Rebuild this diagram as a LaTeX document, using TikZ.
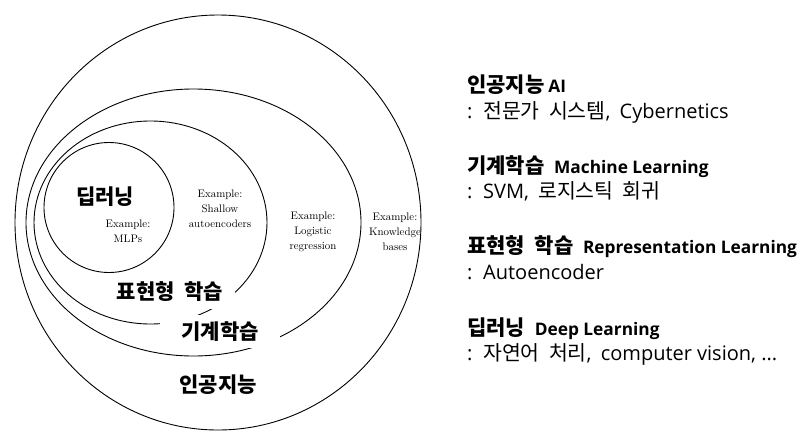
\documentclass[tikz,border=0pt]{standalone}
\usepackage{fontspec}
\newfontfamily\kr{Noto Sans CJK KR}
\newfontfamily\krw[WordSpace=2]{Noto Sans CJK KR}
\newfontfamily\en{Open Sans}
\tikzset{
  ring/.style={draw=black, line width=0.9pt},
  exbox/.style={align=center, font=\fontsize{10.9}{15}\selectfont, inner sep=0pt},
  setlabel/.style={font=\krw\bfseries\fontsize{21}{24}\selectfont, inner sep=0pt},
  cutlabel/.style={setlabel, fill=white},
  headtxt/.style={anchor=base west, inner sep=0pt, font=\krw\bfseries\fontsize{21}{24}\selectfont},
  bodytxt/.style={anchor=base west, inner sep=0pt, font=\krw\fontsize{20.5}{24}\selectfont},
}
\newcommand{\engsmall}[1]{{\en\bfseries\fontsize{17.3}{20}\selectfont #1}}
\newcommand{\eng}[1]{{\en\fontsize{20}{24}\selectfont #1}}
\begin{document}
\begin{tikzpicture}[x=1pt, y=-1pt]
\useasboundingbox[fill=white] (0,0) rectangle (806,445);
% sets
\draw[ring] (218,222.5) ellipse [x radius=203, y radius=207.5];
\draw[ring] (193.5,222.5) ellipse [x radius=167.5, y radius=133.5];
\draw[ring] (150.5,222.5) ellipse [x radius=116.5, y radius=101.5];
\draw[ring] (109,207.5) circle [radius=65];
% labels cutting the rings
\node[cutlabel, minimum width=130pt, minimum height=35pt] (rl) at (170,291.5) {표현형 학습};
\node[cutlabel, minimum width=120pt, minimum height=33pt] (ml) at (220,331.5) {기계학습};
\node[setlabel] (ai) at (218,385) {인공지능};
\node[setlabel] (dl) at (105,197) {딥러닝};
% examples
\node[exbox] (exdl) at (128,231) {Example:\\MLPs};
\node[exbox] (exrl) at (220,209) {Example:\\Shallow\\autoencoders};
\node[exbox] (exml) at (313,231.5) {Example:\\Logistic\\regression};
\node[exbox] (exai) at (395,231.5) {Example:\\Knowledge\\bases};
% legend
\node[headtxt] (h1) at (467,92) {인공지능\hspace{4pt}\engsmall{AI}};
\node[bodytxt] (b1) at (467,118) {\eng{:} 전문가 시스템\eng{,} \eng{Cybernetics}};
\node[headtxt] (h2) at (467,173) {기계학습 \engsmall{Machine Learning}};
\node[bodytxt] (b2) at (467,198) {\eng{:} \eng{SVM,} 로지스틱 회귀};
\node[headtxt] (h3) at (467,253) {표현형 학습 \engsmall{Representation Learning}};
\node[bodytxt] (b3) at (467,279) {\eng{:} \eng{Autoencoder}};
\node[headtxt] (h4) at (467,335) {딥러닝 \engsmall{Deep Learning}};
\node[bodytxt] (b4) at (467,360) {\eng{:} 자연어 처리\eng{,} \eng{computer vision, ...}};
\end{tikzpicture}
\end{document}
